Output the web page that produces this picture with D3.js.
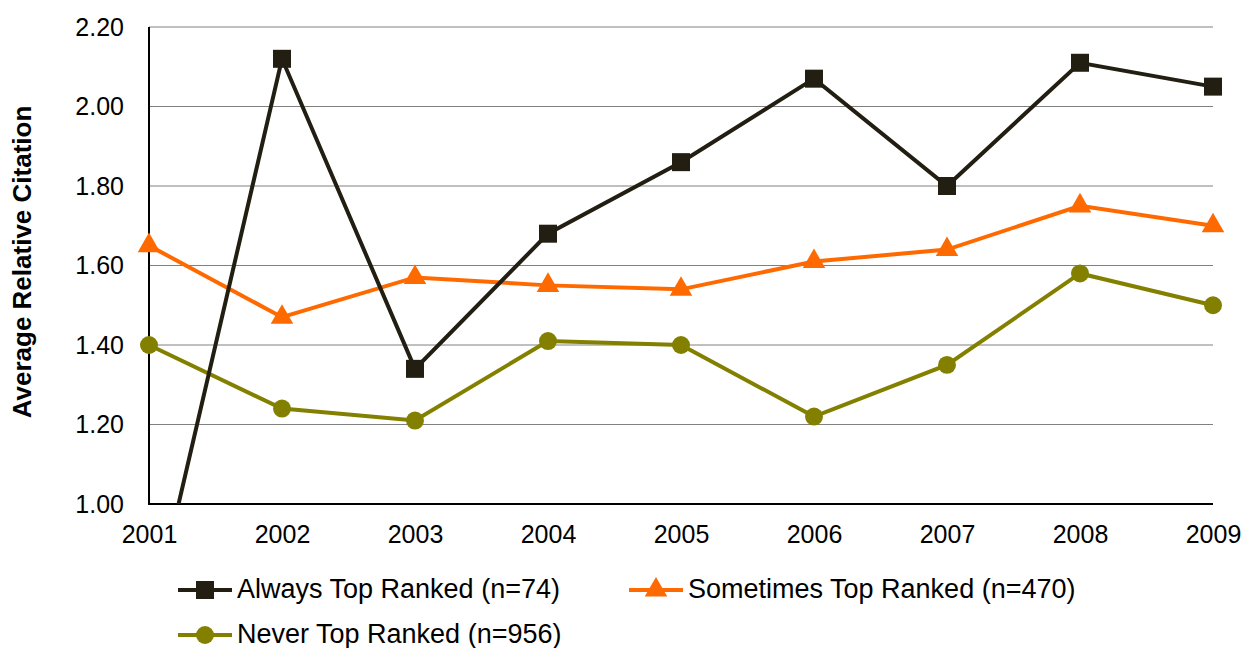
<!DOCTYPE html>
<html><head><meta charset="utf-8">
<script src="https://cdn.jsdelivr.net/npm/d3@7"></script>
<style>body{margin:0;background:#fff;} text{font-family:"Liberation Sans",Arial,sans-serif;}</style>
</head><body>
<svg id="c" width="1245" height="648"></svg>
<script>
const years = ["2001","2002","2003","2004","2005","2006","2007","2008","2009"];
const always = [0.68, 2.12, 1.34, 1.68, 1.86, 2.07, 1.80, 2.11, 2.05];
const sometimes = [1.65, 1.47, 1.57, 1.55, 1.54, 1.61, 1.64, 1.75, 1.70];
const never = [1.40, 1.24, 1.21, 1.41, 1.40, 1.22, 1.35, 1.58, 1.50];
const yTicks = [1.00, 1.20, 1.40, 1.60, 1.80, 2.00, 2.20];
const seriesNames = ["Always Top Ranked (n=74)", "Sometimes Top Ranked (n=470)", "Never Top Ranked (n=956)"];

const svg = d3.select("#c");
const L = 149, R = 1213, T = 27, B = 504;
const x = d3.scalePoint().domain(years).range([L, R]);
const y = d3.scaleLinear().domain([1.0, 2.2]).range([B, T]);

svg.append("defs").append("clipPath").attr("id","clip")
  .append("rect").attr("x", 0).attr("y", T - 20).attr("width", 1245).attr("height", B - T + 20);

// grid
svg.append("g").selectAll("line").data(yTicks.slice(1)).join("line")
  .attr("x1", L).attr("x2", R).attr("y1", d => y(d)).attr("y2", d => y(d))
  .attr("stroke", "#808080").attr("stroke-width", 1);

// y axis
const ya = svg.append("g").attr("transform", `translate(${L},0)`)
  .call(d3.axisLeft(y).tickValues(yTicks).tickFormat(d3.format(".2f")).tickSize(0).tickPadding(25));
ya.select(".domain").remove();
ya.selectAll("text").attr("font-size", 25).attr("fill", "#000").style("font-family", "Liberation Sans, Arial, sans-serif");

// x axis
const xa = svg.append("g").attr("transform", `translate(0,${B})`)
  .call(d3.axisBottom(x).tickSize(0).tickPadding(21));
xa.select(".domain").remove();
xa.selectAll("text").attr("font-size", 25).attr("fill", "#000").style("font-family", "Liberation Sans, Arial, sans-serif");

svg.append("line").attr("x1", L).attr("x2", L).attr("y1", T).attr("y2", B + 1).attr("stroke", "#000").attr("stroke-width", 2);
svg.append("line").attr("x1", L - 1).attr("x2", R).attr("y1", B).attr("y2", B).attr("stroke", "#000").attr("stroke-width", 2);

// axis title
svg.append("text").attr("transform", "translate(31,262) rotate(-90)")
  .attr("text-anchor", "middle").attr("font-size", 26).attr("font-weight", "bold").text("Average Relative Citation");

const series = [
  {name: seriesNames[0], vals: always, color: "#221e12", shape: "square"},
  {name: seriesNames[1], vals: sometimes, color: "#ff6a00", shape: "triangle"},
  {name: seriesNames[2], vals: never, color: "#838000", shape: "circle"}
];
const line = d3.line().x((d, i) => x(years[i])).y(d => y(d));
const sym = {square: d3.symbol().type(d3.symbolSquare).size(324),
             triangle: d3.symbol().type(d3.symbolTriangle).size(220),
             circle: d3.symbol().type(d3.symbolCircle).size(254)};

const drawOrder = [2, 1, 0];
drawOrder.forEach(k => {
  const s = series[k];
  const g = svg.append("g").attr("clip-path", "url(#clip)");
  g.append("path").datum(s.vals).attr("d", line).attr("fill", "none")
    .attr("stroke", s.color).attr("stroke-width", 4).attr("stroke-linejoin", "miter");
  g.selectAll("path.m").data(s.vals).join("path").attr("class", "m")
    .attr("d", sym[s.shape])
    .attr("transform", (d, i) => `translate(${x(years[i])},${y(d)})`)
    .attr("fill", s.color);
});

// legend
const leg = [
  {s: series[0], lx: 178, ly: 590},
  {s: series[1], lx: 629, ly: 590},
  {s: series[2], lx: 178, ly: 635}
];
leg.forEach(o => {
  const g = svg.append("g");
  g.append("line").attr("x1", o.lx).attr("x2", o.lx + 54).attr("y1", o.ly).attr("y2", o.ly)
    .attr("stroke", o.s.color).attr("stroke-width", 4);
  g.append("path").attr("d", sym[o.s.shape]).attr("transform", `translate(${o.lx + 27},${o.ly})`).attr("fill", o.s.color);
  g.append("text").attr("x", o.lx + 59).attr("y", o.ly + 8).attr("font-size", 27).text(o.s.name);
});
</script>
</body></html>
